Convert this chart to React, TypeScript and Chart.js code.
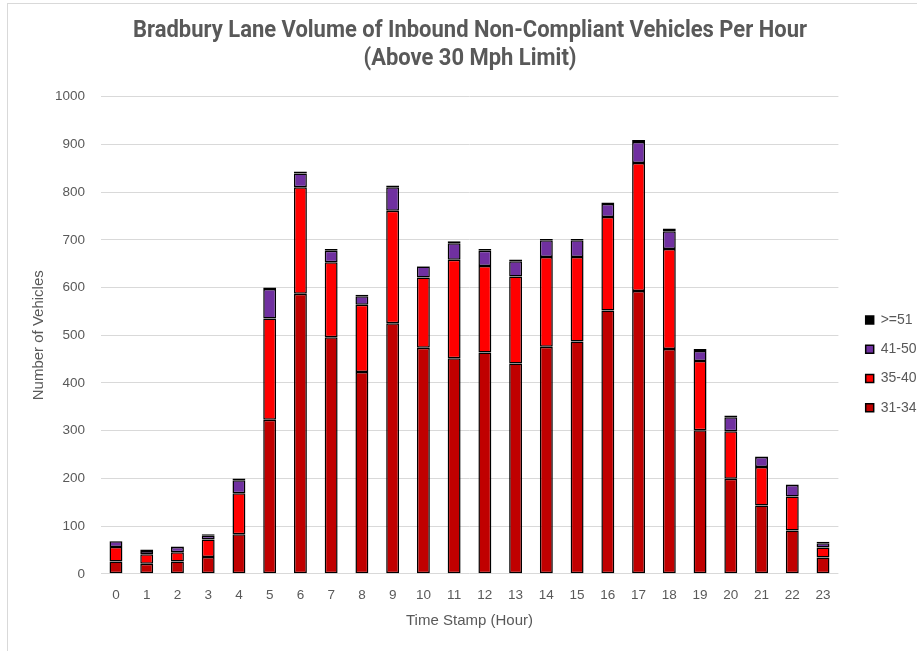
import { useEffect, useRef } from "react";
import { Chart, registerables } from "chart.js";

Chart.register(...registerables);

const hours = ["0","1","2","3","4","5","6","7","8","9","10","11","12","13","14","15","16","17","18","19","20","21","22","23"];
const speed31to34 = [26, 21, 26, 35, 83, 323, 587, 496, 423, 525, 474, 452, 464, 441, 476, 487, 552, 593, 471, 301, 199, 143, 91, 34];
const speed35to40 = [30, 20, 19, 37, 86, 212, 223, 157, 141, 236, 147, 206, 181, 182, 188, 177, 196, 268, 210, 145, 100, 81, 71, 21];
const speed41to50 = [12, 7, 11, 8, 27, 62, 29, 24, 18, 49, 23, 35, 32, 32, 35, 35, 27, 44, 37, 21, 29, 21, 24, 9];
const speed51plus = [1, 3, 1, 3, 4, 3, 4, 4, 3, 4, 1, 4, 4, 4, 3, 3, 3, 4, 6, 4, 4, 1, 1, 3];

const seriesNames = ["31-34", "35-40", "41-50", ">=51"];
const seriesColors = ["#C00000", "#FF0000", "#7030A0", "#000000"];
const yMin = 0;
const yMax = 1000;
const yStep = 100;

const titleLines = [
  "Bradbury Lane Volume of Inbound Non-Compliant Vehicles Per Hour",
  "(Above 30 Mph Limit)",
];
const xTitle = "Time Stamp (Hour)";
const yTitle = "Number of Vehicles";

const textColor = "#595959";
const baseFont = "'Liberation Sans', Arial, sans-serif";
const titleFont = "bold 24px Roboto, 'Liberation Sans', sans-serif";

// Narrow bold title drawn as real canvas text, compressed horizontally
const narrowTitle = {
  id: "narrowTitle",
  afterDraw(chart: any) {
    const ctx = chart.ctx as CanvasRenderingContext2D;
    ctx.save();
    ctx.font = titleFont;
    ctx.fillStyle = textColor;
    ctx.textAlign = "center";
    ctx.textBaseline = "middle";
    const w = ctx.measureText(titleLines[0]).width;
    const sx = 674 / w;
    const cx = 462;
    titleLines.forEach((line, i) => {
      ctx.save();
      ctx.translate(cx, 27 + i * 28);
      ctx.scale(sx, 1);
      ctx.fillText(line, 0, 0);
      ctx.restore();
    });
    ctx.restore();
  },
};

export default function App() {
  const ref = useRef<HTMLCanvasElement>(null);

  useEffect(() => {
    if (!ref.current) return;
    const values = [speed31to34, speed35to40, speed41to50, speed51plus];
    const chart = new Chart(ref.current, {
      type: "bar",
      data: {
        labels: hours,
        datasets: values.map((v, i) => ({
          label: seriesNames[i],
          data: v,
          backgroundColor: seriesColors[i],
          borderColor: "#000000",
          borderWidth: 1.5,
          borderSkipped: false,
          barPercentage: 0.42,
          categoryPercentage: 1,
        })),
      },
      plugins: [narrowTitle],
      options: {
        animation: false,
        responsive: false,
        layout: { padding: { left: 0, right: 11.5, top: 92.7, bottom: 20 } },
        font: { family: baseFont },
        plugins: {
          title: { display: false },
          legend: {
            position: "right",
            reverse: true,
            labels: {
              boxWidth: 8,
              boxHeight: 8,
              padding: 15.3,
              color: textColor,
              font: { family: baseFont, size: 14 },
            },
          },
          tooltip: { enabled: false },
        },
        scales: {
          x: {
            stacked: true,
            grid: { display: false },
            border: { display: false },
            ticks: {
              color: textColor,
              font: { family: baseFont, size: 13.5 },
              padding: 5,
              maxRotation: 0,
              autoSkip: false,
            },
            title: {
              display: true,
              text: xTitle,
              color: textColor,
              font: { family: baseFont, size: 15, lineHeight: 1.2 },
              padding: { top: 0, bottom: 1.2 },
            },
            afterFit: (s: any) => {
              s.height = 57.2;
            },
          },
          y: {
            stacked: true,
            min: yMin,
            max: yMax,
            ticks: {
              stepSize: yStep,
              padding: 15.6,
              color: textColor,
              font: { family: baseFont, size: 13.5 },
              callback: (v: any) => String(v),
            },
            grid: { color: "#d9d9d9", drawTicks: false },
            border: { display: false },
            title: {
              display: true,
              text: yTitle,
              color: textColor,
              font: { family: baseFont, size: 15, lineHeight: 1.2 },
              padding: { top: 22, bottom: 0 },
            },
            afterFit: (s: any) => {
              s.width = 92.6;
            },
          },
          spacer: {
            type: "linear",
            position: "right",
            display: true,
            grid: { display: false },
            border: { display: false },
            ticks: { display: false },
            afterFit: (s: any) => {
              s.width = 12;
            },
          },
        },
      } as any,
    });
    return () => chart.destroy();
  }, []);

  return (
    <div
      style={{
        position: "fixed",
        left: 7,
        top: 3,
        width: 930,
        height: 660,
        borderLeft: "1px solid #d9d9d9",
        borderTop: "1px solid #d9d9d9",
        overflow: "hidden",
        background: "#ffffff",
      }}
    >
      <canvas ref={ref} width={930} height={647} style={{ display: "block" }} />
    </div>
  );
}
